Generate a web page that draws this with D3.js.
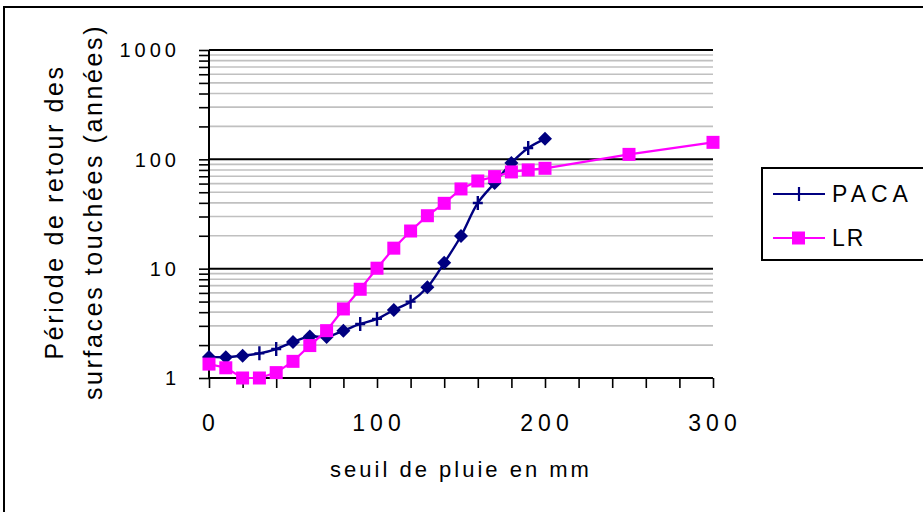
<!DOCTYPE html>
<html>
<head>
<meta charset="utf-8">
<script src="https://cdn.jsdelivr.net/npm/d3@7"></script>
<style>
body { margin: 0; background: #fff; }
text { font-family: "Liberation Sans", Arial, sans-serif; fill: #000; }
</style>
</head>
<body>
<div id="chart"></div>
<script>
// rain threshold (mm) and return periods (years)
var seuilPACA = [0, 10, 20, 30, 40, 50, 60, 70, 80, 90, 100, 110, 120, 130, 140, 150, 160, 170, 180, 190, 200];
var paca      = [1.56, 1.55, 1.6, 1.68, 1.84, 2.13, 2.4, 2.37, 2.71, 3.12, 3.47, 4.19, 4.99, 6.76, 11.3, 19.9, 39.9, 60.8, 92.7, 127, 154];
// marker drawn at each PACA point: d = diamond, p = plus
var pacaMarks = ["d", "d", "d", "p", "p", "d", "d", "d", "d", "p", "p", "d", "p", "d", "d", "d", "p", "d", "d", "p", "d"];

var seuilLR = [0, 10, 20, 30, 40, 50, 60, 70, 80, 90, 100, 110, 120, 130, 140, 150, 160, 170, 180, 190, 200, 250, 300];
var lr      = [1.34, 1.24, 1.0, 1.0, 1.12, 1.42, 1.98, 2.71, 4.28, 6.48, 10.1, 15.4, 22.1, 30.5, 39.6, 53.6, 63.4, 69.5, 76.7, 80, 82.8, 111, 143];

var xTicks = d3.range(0, 301, 20);
var xLabels = [0, 100, 200, 300];
var yLabels = [1, 10, 100, 1000];

var W = 923, H = 512;
var margin = {top: 50, right: 210, bottom: 134, left: 209},
    width = W - margin.left - margin.right,
    height = H - margin.top - margin.bottom;

var x = d3.scaleLinear().domain([0, 300]).range([0, width]);
var y = d3.scaleLog().domain([1, 1000]).range([height, 0]);

var yTicks = [];
[1, 10, 100].forEach(function(p) {
  for (var k = 1; k < 10; k++) yTicks.push(p * k);
});
yTicks.push(1000);
var minor = yTicks.filter(function(v) { return yLabels.indexOf(v) < 0; });

var svgRoot = d3.select("#chart").append("svg")
    .attr("width", W)
    .attr("height", H);

// outer chart border
svgRoot.append("rect")
    .attr("x", 4).attr("y", 7)
    .attr("width", W + 10).attr("height", H + 10)
    .attr("fill", "#fff")
    .attr("stroke", "#000")
    .attr("stroke-width", 2);

var svg = svgRoot.append("g")
    .attr("transform", "translate(" + margin.left + "," + margin.top + ")");

// gridlines
svg.append("g").selectAll("line")
    .data(minor)
  .enter().append("line")
    .attr("x1", 0).attr("x2", width)
    .attr("y1", function(d) { return y(d); })
    .attr("y2", function(d) { return y(d); })
    .attr("stroke", "#c0c0c0")
    .attr("stroke-width", 1.6);

svg.append("g").selectAll("line")
    .data([10, 100, 1000])
  .enter().append("line")
    .attr("x1", 0).attr("x2", width)
    .attr("y1", function(d) { return y(d); })
    .attr("y2", function(d) { return y(d); })
    .attr("stroke", "#000")
    .attr("stroke-width", 2);

// axes
var yAxis = d3.axisLeft(y)
    .tickValues(yTicks)
    .tickSize(10)
    .tickFormat("");

svg.append("g")
    .attr("class", "y axis")
    .call(yAxis)
    .call(function(g) {
      g.select(".domain").attr("stroke-width", 2).attr("d", "M0,0V" + height);
      g.selectAll(".tick line").attr("stroke-width", 1.6);
    });

svg.append("g").selectAll("text")
    .data(yLabels)
  .enter().append("text")
    .attr("x", -29)
    .attr("y", function(d) { return y(d); })
    .attr("dy", "0.36em")
    .attr("text-anchor", "end")
    .style("font-size", "20px")
    .style("letter-spacing", "4px")
    .text(function(d) { return d; });

var xAxis = d3.axisBottom(x)
    .tickValues(xTicks)
    .tickSize(10)
    .tickFormat("");

svg.append("g")
    .attr("class", "x axis")
    .attr("transform", "translate(0," + height + ")")
    .call(xAxis)
    .call(function(g) {
      g.select(".domain").attr("stroke-width", 2).attr("d", "M0,0H" + width);
      g.selectAll(".tick line").attr("stroke-width", 1.6);
    });

svg.append("g").selectAll("text")
    .data(xLabels)
  .enter().append("text")
    .attr("x", function(d) { return x(d) + 2; })
    .attr("y", height + 53)
    .attr("text-anchor", "middle")
    .style("font-size", "23px")
    .style("letter-spacing", "5px")
    .text(function(d) { return d; });

svg.append("text")
    .attr("x", width / 2)
    .attr("y", height + 99)
    .attr("text-anchor", "middle")
    .style("font-size", "22px")
    .style("letter-spacing", "3px")
    .text("seuil de pluie en mm");

// y title, two lines
var yt = svgRoot.append("text")
    .attr("transform", "translate(0," + (margin.top + height / 2 - 2) + ") rotate(-90)")
    .attr("text-anchor", "middle")
    .style("font-size", "25px")
    .style("letter-spacing", "2.6px");
yt.append("tspan").attr("x", 0).attr("y", 63).text("Période de retour des");
yt.append("tspan").attr("x", 0).attr("y", 102).text("surfaces touchées (années)");

// series
var navy = "#000080", magenta = "#ff00ff";

var pacaPts = seuilPACA.map(function(s, i) { return {x: s, y: paca[i], m: pacaMarks[i]}; });
var lrPts = seuilLR.map(function(s, i) { return {x: s, y: lr[i]}; });

var smooth = d3.line()
    .x(function(d) { return x(d.x); })
    .y(function(d) { return y(d.y); })
    .curve(d3.curveCatmullRom);

var straight = d3.line()
    .x(function(d) { return x(d.x); })
    .y(function(d) { return y(d.y); });

svg.append("path")
    .datum(pacaPts)
    .attr("d", smooth)
    .attr("fill", "none")
    .attr("stroke", navy)
    .attr("stroke-width", 2.4);

svg.append("g").selectAll("path")
    .data(pacaPts.filter(function(d) { return d.m === "d"; }))
  .enter().append("path")
    .attr("transform", function(d) { return "translate(" + x(d.x) + "," + y(d.y) + ")"; })
    .attr("d", "M0,-7L7,0L0,7L-7,0Z")
    .attr("fill", navy);

svg.append("g").selectAll("path")
    .data(pacaPts.filter(function(d) { return d.m === "p"; }))
  .enter().append("path")
    .attr("transform", function(d) { return "translate(" + x(d.x) + "," + y(d.y) + ")"; })
    .attr("d", "M0,-7V7M-5,0H5")
    .attr("stroke", navy)
    .attr("stroke-width", 2.4);

svg.append("path")
    .datum(lrPts)
    .attr("d", straight)
    .attr("fill", "none")
    .attr("stroke", magenta)
    .attr("stroke-width", 2.2);

svg.append("g").selectAll("rect")
    .data(lrPts)
  .enter().append("rect")
    .attr("x", function(d) { return x(d.x) - 6.5; })
    .attr("y", function(d) { return y(d.y) - 6.5; })
    .attr("width", 13).attr("height", 13)
    .attr("fill", magenta);

// legend
var lg = svgRoot.append("g");
lg.append("rect")
    .attr("x", 762).attr("y", 168)
    .attr("width", 180).attr("height", 92)
    .attr("fill", "#fff")
    .attr("stroke", "#000")
    .attr("stroke-width", 2);

var legendItems = [
  {name: "PACA", color: navy, y: 194, spacing: "5px"},
  {name: "LR", color: magenta, y: 238, spacing: "2px"}
];

legendItems.forEach(function(it, i) {
  lg.append("line")
      .attr("x1", 773).attr("x2", 825)
      .attr("y1", it.y).attr("y2", it.y)
      .attr("stroke", it.color)
      .attr("stroke-width", 2.2);
  if (i === 0) {
    lg.append("line")
        .attr("x1", 799).attr("x2", 799)
        .attr("y1", it.y - 7).attr("y2", it.y + 7)
        .attr("stroke", it.color)
        .attr("stroke-width", 2.2);
  } else {
    lg.append("rect")
        .attr("x", 792).attr("y", it.y - 6.5)
        .attr("width", 13).attr("height", 13)
        .attr("fill", it.color);
  }
  lg.append("text")
      .attr("x", 832)
      .attr("y", it.y + 8)
      .style("font-size", "23px")
      .style("letter-spacing", it.spacing)
      .text(it.name);
});
</script>
</body>
</html>
